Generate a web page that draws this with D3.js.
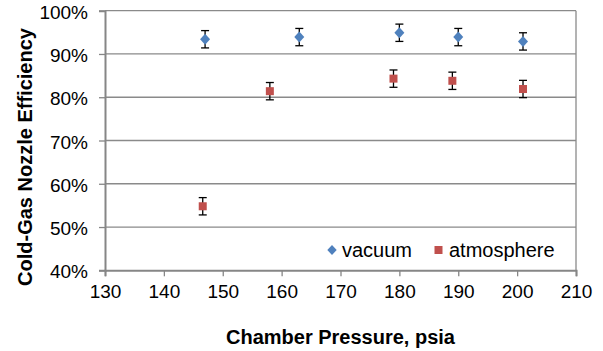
<!DOCTYPE html>
<html>
<head>
<meta charset="utf-8">
<script src="https://cdn.jsdelivr.net/npm/d3@7"></script>
<style>
  body { margin: 0; background: #fff; }
  text { font-family: "Liberation Sans", Arial, sans-serif; fill: #000; }
</style>
</head>
<body>
<script>
// values
var vacuumPressure = [147, 163, 180, 190, 201];
var vacuumEff = [0.934, 0.939, 0.949, 0.939, 0.929];
var atmPressure = [146.6, 158, 179, 189, 201];
var atmEff = [0.548, 0.814, 0.843, 0.838, 0.819];
var errorBar = 0.02;
var yTicks = [0.4, 0.5, 0.6, 0.7, 0.8, 0.9, 1.0];
var xTicks = [130, 140, 150, 160, 170, 180, 190, 200, 210];

var margin = {top: 10.7, right: 27, bottom: 80.7, left: 105};
var width = 603 - margin.left - margin.right;
var height = 351 - margin.top - margin.bottom;

var svg = d3.select("body").append("svg")
    .attr("width", 603)
    .attr("height", 351);

var g = svg.append("g")
    .attr("transform", "translate(" + margin.left + "," + margin.top + ")");

var xScale = d3.scaleLinear().domain([130, 210]).range([0, width]);
var yScale = d3.scaleLinear().domain([0.4, 1.0]).range([height, 0]);

// gridlines
g.selectAll("line.grid")
    .data(yTicks.slice(1))
    .enter().append("line")
    .attr("class", "grid")
    .attr("x1", 0).attr("x2", width)
    .attr("y1", d => yScale(d)).attr("y2", d => yScale(d))
    .attr("stroke", "#8a8a8a")
    .attr("stroke-width", 1.3);

// right border
g.append("line")
    .attr("x1", width).attr("x2", width)
    .attr("y1", 0).attr("y2", height)
    .attr("stroke", "#8a8a8a").attr("stroke-width", 1.3);

var xAxis = d3.axisBottom(xScale).tickValues(xTicks).tickSize(6).tickPadding(8).tickFormat(d3.format("d"));
var yAxis = d3.axisLeft(yScale).tickValues(yTicks).tickSize(6).tickPadding(11).tickFormat(d3.format(".0%"));

var gx = g.append("g")
    .attr("transform", "translate(0," + height + ")")
    .call(xAxis);
var gy = g.append("g").call(yAxis);

[gx, gy].forEach(function(ax) {
    ax.select(".domain").attr("stroke", "#868686").attr("stroke-width", 2);
    ax.selectAll(".tick line").attr("stroke", "#868686").attr("stroke-width", 1.3);
    ax.selectAll(".tick text")
        .style("font-family", "Liberation Sans, Arial, sans-serif")
        .style("font-size", "19px")
        .attr("fill", "#000");
});
gy.selectAll(".tick text").attr("dy", "0.4em");

// error bars
function errorBars(xs, ys) {
    var eb = g.append("g");
    xs.forEach(function(px, i) {
        var cx = xScale(px);
        var yTop = yScale(ys[i] + errorBar);
        var yBot = yScale(ys[i] - errorBar);
        eb.append("line").attr("x1", cx).attr("x2", cx).attr("y1", yTop).attr("y2", yBot)
            .attr("stroke", "#000").attr("stroke-width", 1.3);
        eb.append("line").attr("x1", cx - 4).attr("x2", cx + 4).attr("y1", yTop).attr("y2", yTop)
            .attr("stroke", "#000").attr("stroke-width", 1.3);
        eb.append("line").attr("x1", cx - 4).attr("x2", cx + 4).attr("y1", yBot).attr("y2", yBot)
            .attr("stroke", "#000").attr("stroke-width", 1.3);
    });
}
errorBars(vacuumPressure, vacuumEff);
errorBars(atmPressure, atmEff);

var diamond = "M0,-5.5L5,0L0,5.5L-5,0Z";

g.selectAll("path.vac")
    .data(vacuumPressure)
    .enter().append("path")
    .attr("class", "vac")
    .attr("d", diamond)
    .attr("transform", (d, i) => "translate(" + xScale(d) + "," + yScale(vacuumEff[i]) + ")")
    .attr("fill", "#4f81bd");

g.selectAll("rect.atm")
    .data(atmPressure)
    .enter().append("rect")
    .attr("class", "atm")
    .attr("x", d => xScale(d) - 4)
    .attr("y", (d, i) => yScale(atmEff[i]) - 4)
    .attr("width", 8).attr("height", 8)
    .attr("fill", "#c0504d");

// legend
var legend = svg.append("g");
legend.append("path").attr("d", "M0,-5L4.7,0L0,5L-4.7,0Z")
    .attr("transform", "translate(332,250)").attr("fill", "#4f81bd");
legend.append("text").attr("x", 342).attr("y", 257)
    .style("font-size", "20px").text("vacuum");
legend.append("rect").attr("x", 434.5).attr("y", 246).attr("width", 8).attr("height", 8)
    .attr("fill", "#c0504d");
legend.append("text").attr("x", 449).attr("y", 257)
    .style("font-size", "20px").text("atmosphere");

// axis titles
svg.append("text")
    .attr("x", margin.left + width / 2).attr("y", 344)
    .attr("text-anchor", "middle")
    .style("font-size", "20px").style("font-weight", "bold")
    .text("Chamber Pressure, psia");

svg.append("text")
    .attr("transform", "translate(32,157) rotate(-90)")
    .attr("text-anchor", "middle")
    .style("font-size", "20px").style("font-weight", "bold")
    .text("Cold-Gas Nozzle Efficiency");
</script>
</body>
</html>
